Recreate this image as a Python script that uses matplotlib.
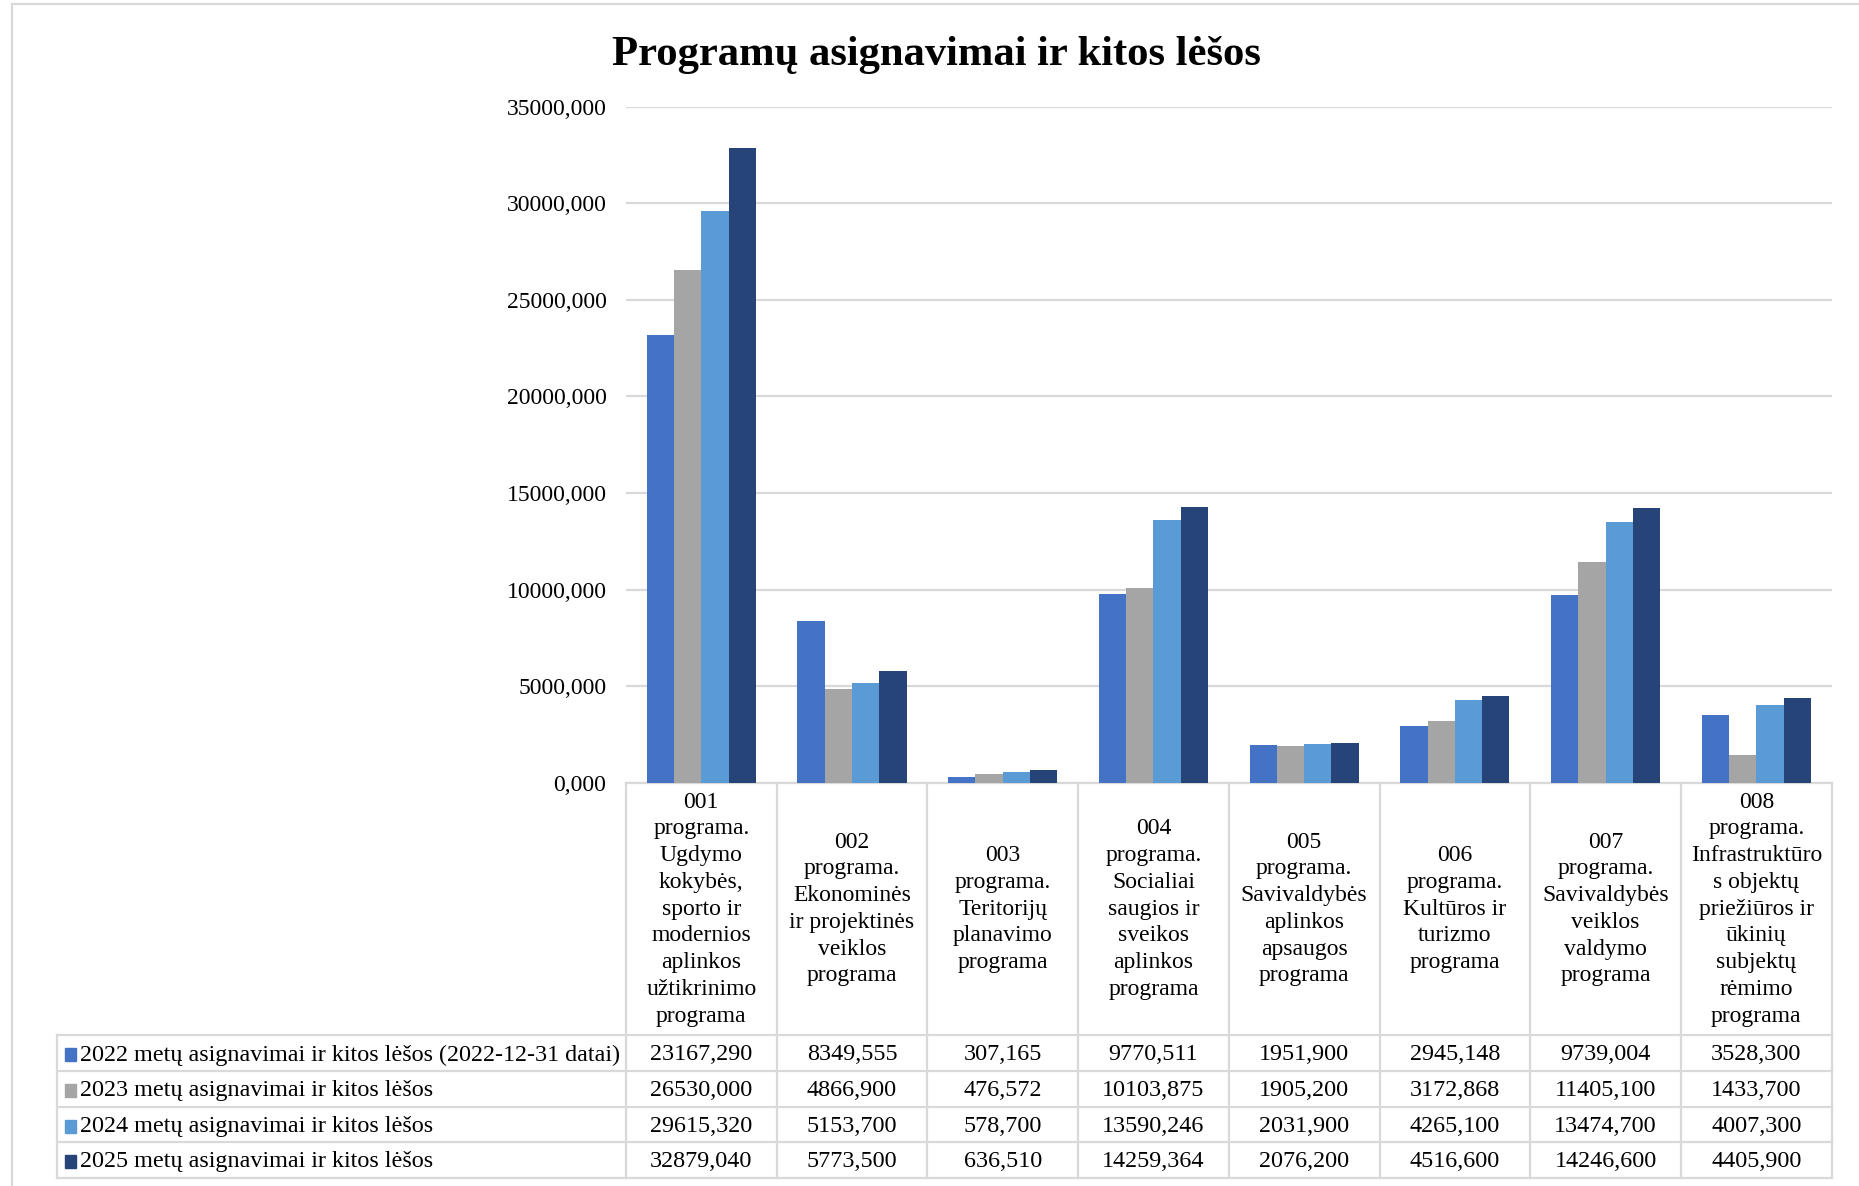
import numpy as np
import matplotlib.pyplot as plt
from matplotlib.transforms import blended_transform_factory
from matplotlib.patches import Rectangle

plt.rcParams['font.family'] = ['Liberation Serif', 'DejaVu Serif']

# Chart data
categories = [
    "001\nprograma.\nUgdymo\nkokybės,\nsporto ir\nmodernios\naplinkos\nužtikrinimo\nprograma",
    "002\nprograma.\nEkonominės\nir projektinės\nveiklos\nprograma",
    "003\nprograma.\nTeritorijų\nplanavimo\nprograma",
    "004\nprograma.\nSocialiai\nsaugios ir\nsveikos\naplinkos\nprograma",
    "005\nprograma.\nSavivaldybės\naplinkos\napsaugos\nprograma",
    "006\nprograma.\nKultūros ir\nturizmo\nprograma",
    "007\nprograma.\nSavivaldybės\nveiklos\nvaldymo\nprograma",
    "008\nprograma.\nInfrastruktūro\ns objektų\npriežiūros ir\nūkinių\nsubjektų\nrėmimo\nprograma",
]
series_names = [
    "2022 metų asignavimai ir kitos lėšos (2022-12-31 datai)",
    "2023 metų asignavimai ir kitos lėšos",
    "2024 metų asignavimai ir kitos lėšos",
    "2025 metų asignavimai ir kitos lėšos",
]
values_2022 = [23167.290, 8349.555, 307.165, 9770.511, 1951.900, 2945.148, 9739.004, 3528.300]
values_2023 = [26530.000, 4866.900, 476.572, 10103.875, 1905.200, 3172.868, 11405.100, 1433.700]
values_2024 = [29615.320, 5153.700, 578.700, 13590.246, 2031.900, 4265.100, 13474.700, 4007.300]
values_2025 = [32879.040, 5773.500, 636.510, 14259.364, 2076.200, 4516.600, 14246.600, 4405.900]
yticks = [0, 5000, 10000, 15000, 20000, 25000, 30000, 35000]

series = [values_2022, values_2023, values_2024, values_2025]
colors = ['#4472C4', '#A5A5A5', '#5B9BD5', '#264478']
grid_col = '#D9D9D9'
FS = 17.4


def fmt(v):
    return f"{v:.3f}".replace('.', ',')


fig = plt.figure(figsize=(18.59, 11.86), dpi=100)
ax = fig.add_axes([0.3367, 0.34, 0.6486, 0.57])

x = np.arange(len(categories))
bw = 0.181
for i, vals in enumerate(series):
    ax.bar(x + (i - 1.5) * bw, vals, width=bw, color=colors[i], zorder=3)

ax.set_xlim(-0.5, len(categories) - 0.5)
ax.set_ylim(0, 35000)
ax.set_yticks(yticks)
ax.set_yticklabels([fmt(v) for v in yticks], fontsize=17)
ax.tick_params(axis='y', length=0, pad=14)
ax.set_xticks([])
ax.grid(axis='y', color=grid_col, linewidth=1.6, zorder=0)
for s in ['left', 'right', 'top']:
    ax.spines[s].set_visible(False)
ax.spines['bottom'].set_color(grid_col)
ax.spines['bottom'].set_linewidth(1.6)

fig.suptitle("Programų asignavimai ir kitos lėšos", fontsize=30.7, fontweight='bold',
             x=0.504, y=0.954, va='center')

# data table under the chart: x in data units, y in figure fraction
tr = blended_transform_factory(ax.transData, fig.transFigure)
cat_top, cat_bot = 0.34, 0.127
row_h = 0.03
legend_left = -0.5 - 3.777
n = len(categories)

lw = 1.6
# vertical lines of category row and data rows
for k in range(n + 1):
    ax.plot([k - 0.5, k - 0.5], [cat_top, cat_bot - 4 * row_h], transform=tr,
            color=grid_col, lw=lw, clip_on=False)
ax.plot([legend_left, legend_left], [cat_bot, cat_bot - 4 * row_h], transform=tr,
        color=grid_col, lw=lw, clip_on=False)
for r in range(5):
    yy = cat_bot - r * row_h
    ax.plot([legend_left, n - 0.5], [yy, yy], transform=tr,
            color=grid_col, lw=lw, clip_on=False)

for k, lab in enumerate(categories):
    ax.text(k, (cat_top + cat_bot) / 2, lab, transform=tr, ha='center', va='center',
            fontsize=17, linespacing=1.36)

for r, (name, vals) in enumerate(zip(series_names, series)):
    yc = cat_bot - (r + 0.5) * row_h - 0.0015
    ax.add_patch(Rectangle((legend_left + 0.055, yc - 0.0055), 0.07, 0.011, transform=tr,
                           color=colors[r], clip_on=False))
    ax.text(legend_left + 0.157, yc, name, transform=tr, ha='left', va='center', fontsize=FS)
    for k, v in enumerate(vals):
        ax.text(k, yc, fmt(v), transform=tr, ha='center', va='center', fontsize=FS)

# outer chart border
fig.add_artist(Rectangle((10 / 1568, -0.01), 1.0, 0.007 + 1.0, transform=fig.transFigure,
                         fill=False, edgecolor=grid_col, lw=1.6))

fig.savefig('out.png', dpi=100)
